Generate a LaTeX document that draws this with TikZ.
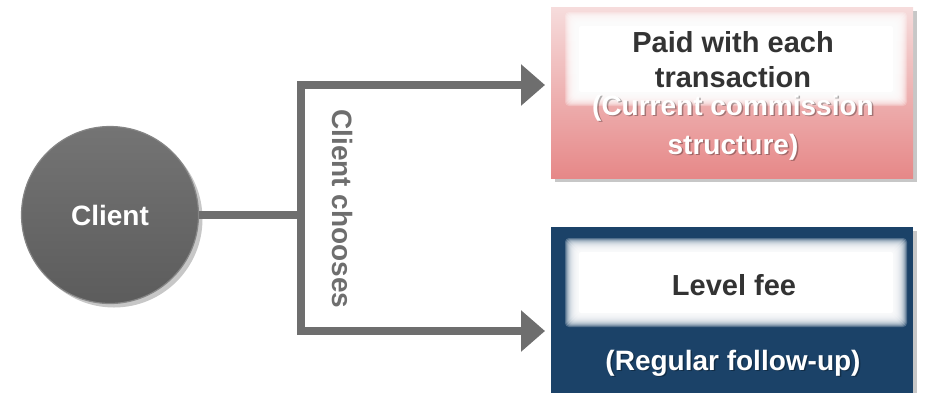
\documentclass[tikz,border=0pt]{standalone}
\usepackage{fontspec}
\setmainfont{Liberation Sans}
\usetikzlibrary{arrows.meta,shadows,calc}

\definecolor{linegray}{HTML}{6E6E6E}
\definecolor{ballhi}{HTML}{747474}
\definecolor{balllo}{HTML}{5C5C5C}
\definecolor{ballrim}{HTML}{858585}
\definecolor{pinktop}{HTML}{F6DCDC}
\definecolor{pinkbot}{HTML}{E68888}
\definecolor{navy}{HTML}{1B4268}
\definecolor{darktext}{HTML}{333333}

\tikzset{
  big/.style={font=\fontsize{28}{32}\selectfont\bfseries},
  bigger/.style={font=\fontsize{29}{33}\selectfont\bfseries},
  conn/.style={draw=linegray, line width=8pt, line join=miter},
  arrowconn/.style={conn, -{Triangle[length=24pt,width=40pt]}},
  softshadow/.style={drop shadow={shadow xshift=4pt, shadow yshift=-4pt, fill=black, opacity=.22}},
  optionbox/.style={rectangle, inner sep=0pt, softshadow},
  darklabel/.style={bigger, text=darktext, anchor=base, inner sep=0pt},
  whitelabel/.style={big, text=white, anchor=base, inner sep=0pt},
  shadowlabel/.style={big, text=black, opacity=.3, anchor=base, inner sep=0pt},
}

% soft-edged white panel: #1 = top-left corner, #2 = bottom-right corner
\newcommand\glowpanel[2]{%
  \foreach \d in {7,6,...,-6}{%
    \fill[white, opacity=.24, rounded corners=4pt]
      ($(#1)+(-\d,-\d)$) rectangle ($(#2)+(\d,\d)$);
  }%
  \fill[white, rounded corners=2pt] ($(#1)+(7,7)$) rectangle ($(#2)+(-7,-7)$);
}

\begin{document}
\begin{tikzpicture}[x=1pt,y=-1pt]
  \useasboundingbox (0,0) rectangle (926,392);

  % the client
  \node[circle, minimum size=177pt, inner sep=0pt, top color=ballhi, bottom color=balllo,
        draw=ballrim, line width=1.2pt, softshadow, big, text=white] (client) at (110,215) {Client};

  % the two options
  \node[optionbox, minimum width=362pt, minimum height=171pt,
        top color=pinktop, bottom color=pinkbot] (paid) at (732,92.5) {};
  \node[optionbox, minimum width=362pt, minimum height=175pt,
        fill=navy] (level) at (732,314.5) {};

  % glowing panels inside the boxes
  \coordinate (pA) at (572,19);
  \coordinate (pB) at (900,99);
  \glowpanel{pA}{pB}
  \coordinate (lA) at (572,245);
  \coordinate (lB) at (900,320);
  \glowpanel{lA}{lB}

  % texts of the first option
  \node[darklabel] (paid1) at (733,52) {Paid with each};
  \node[darklabel] (paid2) at (733,87) {transaction};
  \node[shadowlabel] (cur1s) at (734.5,116.5) {(Current commission};
  \node[shadowlabel] (cur2s) at (734.5,155.5) {structure)};
  \node[whitelabel] (cur1) at (733,115) {(Current commission};
  \node[whitelabel] (cur2) at (733,154) {structure)};

  % texts of the second option
  \node[darklabel] (fee) at (734,295) {Level fee};
  \node[shadowlabel] (regs) at (734.5,371.5) {(Regular follow-up)};
  \node[whitelabel] (reg) at (733,370) {(Regular follow-up)};

  % connectors
  \coordinate (jmid) at (301,213);
  \coordinate (tiptop) at (545,85);
  \coordinate (tipbot) at (545,331);
  \draw[conn] (client.east) -- (client.east -| jmid) -- (jmid);
  \draw[arrowconn] (jmid) |- (tiptop);
  \draw[arrowconn] (jmid) |- (tipbot);

  % choice label along the fork
  \node[big, text=linegray, rotate=-90, inner sep=0pt] (choose) at (343,209) {Client chooses};
\end{tikzpicture}
\end{document}
